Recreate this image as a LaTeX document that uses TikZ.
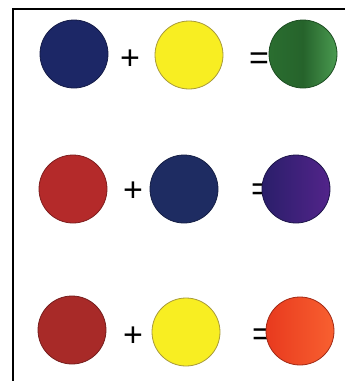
\documentclass[tikz,border=0pt]{standalone}
\usepackage{fontspec}
\setmainfont{Liberation Sans}
\definecolor{navy}{HTML}{1C2766}
\definecolor{yel}{HTML}{F8EE22}
\definecolor{yelrim}{HTML}{A89A3A}
\definecolor{grnL}{HTML}{2A6E30}
\definecolor{grnR}{HTML}{4A9A50}
\definecolor{red1}{HTML}{B42A2A}
\definecolor{blu2}{HTML}{1E2C62}
\definecolor{purL}{HTML}{2A1E6A}
\definecolor{purR}{HTML}{52248A}
\definecolor{dred}{HTML}{A82A28}
\definecolor{orL}{HTML}{E83A1E}
\definecolor{orR}{HTML}{F86030}
\tikzset{
  dot/.style={circle, minimum size=68pt, inner sep=0pt, draw=#1!70!black, line width=0.8pt},
  sym/.style={inner sep=0pt, font=\fontsize{34}{34}\selectfont}
}
\begin{document}
\begin{tikzpicture}[x=1pt,y=-1pt]
\useasboundingbox (0,0) rectangle (345,381);
\fill[white] (0,0) rectangle (345,381);
\draw[line width=2pt] (13,390) -- (13,9) -- (350,9);
% row 1
\node[dot=navy, fill=navy] (a1) at (74,54) {};
\node[sym] (p1) at (130,60) {+};
\node[dot=yel, fill=yel, draw=yelrim] (b1) at (189,55) {};
\node[sym] (e1) at (259,61) {=};
\node[dot=grnL, left color=grnL, right color=grnR, middle color=grnL!90!black] (c1) at (303,54) {};
% row 2
\node[dot=red1, fill=red1] (a2) at (73,189) {};
\node[sym] (p2) at (133,192) {+};
\node[dot=blu2, fill=blu2] (b2) at (184,189) {};
\node[sym] (e2) at (261,192) {=};
\node[dot=purL, left color=purL, right color=purR] (c2) at (296,189) {};
% row 3
\node[dot=dred, fill=dred] (a3) at (72,330) {};
\node[sym] (p3) at (133,337) {+};
\node[dot=yel, fill=yel, draw=yelrim] (b3) at (186,332) {};
\node[sym] (e3) at (262,337) {=};
\node[dot=orL, left color=orL, right color=orR] (c3) at (300,331) {};
\end{tikzpicture}
\end{document}
